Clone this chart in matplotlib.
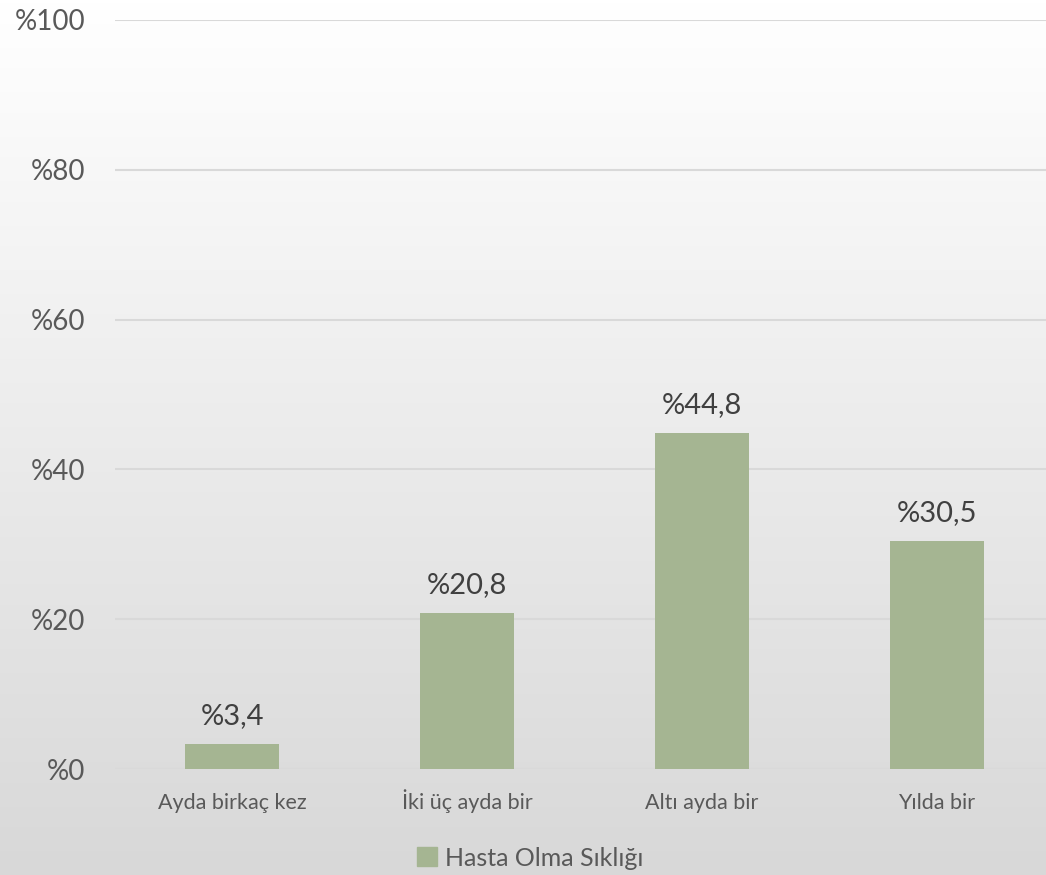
import matplotlib
matplotlib.use("Agg")
import matplotlib.pyplot as plt
import numpy as np
from matplotlib.patches import Patch
from matplotlib.colors import LinearSegmentedColormap

categories = ["Ayda birkaç kez", "İki üç ayda bir", "Altı ayda bir", "Yılda bir"]
values = [3.4, 20.8, 44.8, 30.5]
series_name = "Hasta Olma Sıklığı"
yticks = [0, 20, 40, 60, 80, 100]

plt.rcParams['font.family'] = ['Lato', 'DejaVu Sans']

fig = plt.figure(figsize=(10.46, 8.75), dpi=100)

# background gradient
bg = fig.add_axes([0, 0, 1, 1], zorder=-10)
grad = np.linspace(0, 1, 256).reshape(-1, 1)
cmap = LinearSegmentedColormap.from_list("g", ["#FFFFFF", "#D8D8D8"])
bg.imshow(grad, aspect="auto", cmap=cmap, extent=[0, 1, 0, 1], origin="upper")
bg.set_axis_off()

ax = fig.add_axes([114.5/1046, 106/875, 940/1046, 749/875])
ax.patch.set_alpha(0)
x = np.arange(len(categories))
ax.bar(x, values, width=0.4, color="#A5B592", zorder=3)
for xi, v in zip(x, values):
    ax.text(xi, v + 2.0, "%" + f"{v:.1f}".replace(".", ","), ha="center", va="bottom",
            fontsize=21, color="#404040")
ax.set_xlim(-0.5, 3.5)
ax.set_ylim(0, 100)
ax.set_yticks(yticks)
ax.set_yticklabels(["%" + str(t) for t in yticks], fontsize=20, color="#595959")
ax.set_xticks(x)
ax.set_xticklabels(categories, fontsize=15.5, color="#595959")
for lbl in ax.get_xticklabels():
    lbl.set_verticalalignment("baseline")
ax.tick_params(axis="x", length=0, pad=28.5)
ax.tick_params(axis="y", length=0, pad=21)
ax.yaxis.grid(True, color="#D9D9D9", linewidth=1.5, zorder=0)
ax.set_axisbelow(True)
for s in ax.spines.values():
    s.set_visible(False)

handles = [Patch(color="#A5B592", label=series_name)]
fig.legend(handles=handles, loc="center", bbox_to_anchor=(530/1046, 1 - 858/875),
           frameon=False, fontsize=18, labelcolor="#595959",
           handlelength=0.8, handleheight=0.8, handletextpad=0.3)

fig.savefig("out.png", dpi=100)
